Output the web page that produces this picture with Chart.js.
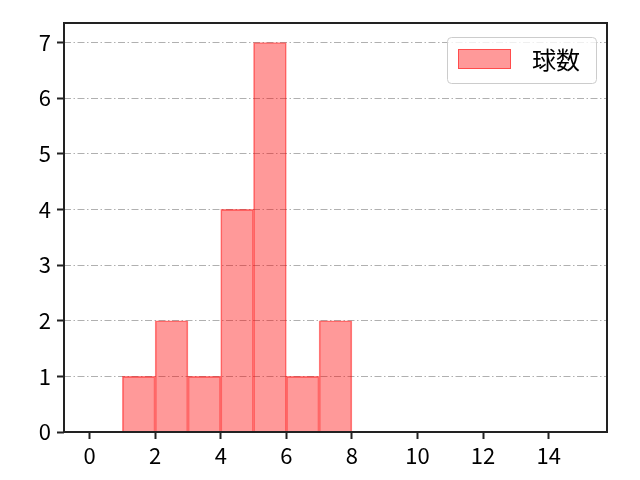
<!DOCTYPE html>
<html>
<head>
<meta charset="utf-8">
<title>球数</title>
<script src="https://cdn.jsdelivr.net/npm/chart.js@4"></script>
<style>
  html, body { margin: 0; padding: 0; background: #fff; }
  #wrap { width: 640px; height: 480px; }
</style>
</head>
<body>
<div id="wrap"><canvas id="chart" width="640" height="480"></canvas></div>
<script>
// Histogram bins (left edge) and counts
const binStarts = [1, 2, 3, 4, 5, 6, 7];
const counts = [1, 2, 1, 4, 7, 1, 2];
const seriesLabel = "球数";
const xTicks = [0, 2, 4, 6, 8, 10, 12, 14];
const yTicks = [0, 1, 2, 3, 4, 5, 6, 7];

const FONT = "'Noto Sans CJK JP', 'Noto Sans', sans-serif";
const barFill = "rgba(255, 0, 0, 0.4)";
const barEdge = "rgba(255, 0, 0, 0.5)";

// Frame around the plot (matplotlib spines)
const framePlugin = {
  id: "frame",
  afterDatasetsDraw(chart) {
    const { ctx, chartArea: a } = chart;
    ctx.save();
    ctx.strokeStyle = "#222";
    ctx.lineWidth = 2;
    ctx.strokeRect(a.left, a.top, a.right - a.left, a.bottom - a.top);
    ctx.restore();
  }
};

// Legend box in the upper right corner
const legendPlugin = {
  id: "boxLegend",
  afterDraw(chart) {
    const { ctx, chartArea: a } = chart;
    const ds = chart.data.datasets[0];
    const x = a.right - 160, y = a.top + 14, w = 149, h = 46;
    ctx.save();
    ctx.beginPath();
    ctx.roundRect(x + 0.5, y + 0.5, w, h, 4);
    ctx.fillStyle = "rgba(255,255,255,0.8)";
    ctx.fill();
    ctx.strokeStyle = "#cccccc";
    ctx.lineWidth = 1;
    ctx.stroke();
    ctx.fillStyle = ds.backgroundColor;
    ctx.fillRect(x + 11, y + 12, 53, 20);
    ctx.strokeStyle = ds.borderColor;
    ctx.strokeRect(x + 11.5, y + 12.5, 52, 19);
    ctx.fillStyle = "#000";
    ctx.font = "24px " + FONT;
    ctx.textBaseline = "middle";
    ctx.fillText(ds.label, x + 85, y + 23);
    ctx.restore();
  }
};

new Chart(document.getElementById("chart"), {
  type: "bar",
  data: {
    datasets: [{
      label: seriesLabel,
      data: binStarts.map((b, i) => ({ x: b + 0.5, y: counts[i] })),
      backgroundColor: barFill,
      borderColor: barEdge,
      borderWidth: 1,
      barPercentage: 1,
      categoryPercentage: 1
    }]
  },
  options: {
    responsive: false,
    animation: false,
    devicePixelRatio: 1,
    layout: { padding: { top: 23, right: 33, left: 0, bottom: 0 } },
    plugins: { legend: { display: false }, tooltip: { enabled: false } },
    scales: {
      x: {
        type: "linear",
        min: -0.78,
        max: 15.78,
        offset: false,
        afterBuildTicks: s => { s.ticks = xTicks.map(v => ({ value: v })); },
        afterFit: s => { s.height = 48; },
        border: { display: false },
        grid: {
          offset: false,
          drawOnChartArea: false,
          drawTicks: true,
          tickLength: 7,
          tickWidth: 2,
          tickColor: "#222"
        },
        ticks: {
          color: "#000",
          padding: 3,
          maxRotation: 0,
          autoSkip: false,
          font: { family: FONT, size: 22 }
        }
      },
      y: {
        min: 0,
        max: 7.35,
        afterBuildTicks: s => { s.ticks = yTicks.map(v => ({ value: v })); },
        afterFit: s => { s.width = 64; },
        border: { display: false, dash: [7, 2.5, 1.5, 2.5] },
        grid: {
          color: "#b0b0b0",
          lineWidth: 1,
          drawTicks: true,
          tickLength: 7,
          tickWidth: 2,
          tickColor: "#222",
          tickBorderDash: [1, 0]
        },
        ticks: {
          color: "#000",
          padding: 6,
          autoSkip: false,
          font: { family: FONT, size: 22 }
        }
      }
    }
  },
  plugins: [framePlugin, legendPlugin]
});
</script>
</body>
</html>
